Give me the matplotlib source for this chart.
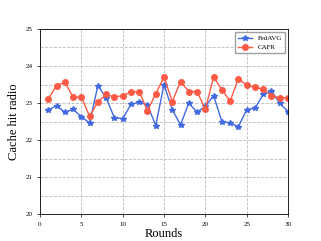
import matplotlib
matplotlib.use("Agg")
import matplotlib.pyplot as plt
from matplotlib.ticker import MultipleLocator

rounds = list(range(1, 31))
fedavg = [22.81, 22.93, 22.75, 22.83, 22.63, 22.46, 23.47, 23.14, 22.60, 22.58,
          22.96, 23.02, 22.95, 22.39, 23.50, 22.82, 22.41, 23.00, 22.75, 22.91,
          23.20, 22.50, 22.46, 22.36, 22.82, 22.86, 23.23, 23.33, 22.99, 22.77]
cafr = [23.11, 23.47, 23.56, 23.16, 23.16, 22.64, 23.03, 23.23, 23.16, 23.20,
        23.30, 23.31, 22.79, 23.25, 23.70, 23.04, 23.58, 23.31, 23.31, 22.83,
        23.70, 23.36, 23.05, 23.66, 23.48, 23.43, 23.37, 23.20, 23.14, 23.14]

plt.rcParams['font.family'] = ['Liberation Serif', 'DejaVu Serif']
fig = plt.figure(figsize=(3.21, 2.41), dpi=100)
ax = fig.add_axes([40/321, 1 - 214/241, 248/321, 185/241])

ax.plot(rounds, fedavg, color='#4169E1', marker='*', markersize=4, linewidth=1.0, label='FedAVG')
ax.plot(rounds, cafr, color='#FF5A45', marker='o', markersize=4, linewidth=1.0, label='CAFR')

ax.set_xlim(0, 30)
ax.set_ylim(20, 25)
ax.xaxis.set_major_locator(MultipleLocator(5))
ax.yaxis.set_major_locator(MultipleLocator(1))
ax.yaxis.set_minor_locator(MultipleLocator(0.5))
ax.grid(True, which='major', linestyle='--', color='#bbbbbb', linewidth=0.6)
ax.grid(True, which='minor', axis='y', linestyle='--', color='#bbbbbb', linewidth=0.6)
ax.tick_params(labelsize=5, direction='out', length=2, width=0.5)
ax.tick_params(which='minor', length=0)
for s in ax.spines.values():
    s.set_linewidth(0.6)
ax.set_xlabel('Rounds', fontsize=9, labelpad=1)
ax.set_ylabel('Cache hit radio', fontsize=9, labelpad=4)
ax.legend(loc='upper right', fontsize=5, frameon=True, fancybox=False, edgecolor='#888888')

fig.savefig('out.png', dpi=100)
